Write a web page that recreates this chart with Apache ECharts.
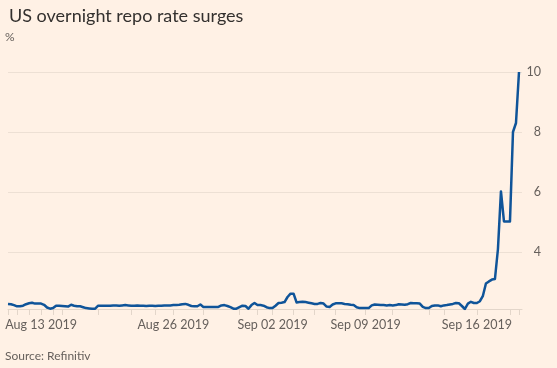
<!DOCTYPE html>
<html>
<head>
<meta charset="utf-8">
<script src="https://cdn.jsdelivr.net/npm/echarts@6/dist/echarts.min.js"></script>
<style>
html,body{margin:0;padding:0;background:#FFF1E5;}
#c{width:557px;height:368px;}
</style>
</head>
<body>
<div id="c"></div>
<script>
// Overnight repo rate observations (%), in order of observation
const rates = [
  2.27,2.26,2.23,2.19,2.19,2.21,2.26,2.29,2.31,2.28,
  2.28,2.28,2.24,2.15,2.11,2.13,2.21,2.21,2.20,2.19,
  2.18,2.24,2.21,2.19,2.19,2.16,2.13,2.12,2.11,2.11,
  2.21,2.21,2.21,2.21,2.21,2.22,2.22,2.21,2.22,2.23,
  2.22,2.21,2.21,2.22,2.21,2.21,2.20,2.21,2.21,2.20,
  2.21,2.21,2.22,2.22,2.22,2.23,2.23,2.24,2.26,2.27,
  2.24,2.20,2.19,2.19,2.25,2.17,2.17,2.17,2.17,2.17,
  2.17,2.22,2.23,2.20,2.16,2.11,2.11,2.16,2.21,2.20,
  2.11,2.23,2.30,2.23,2.23,2.21,2.16,2.13,2.13,2.21,
  2.30,2.31,2.33,2.50,2.61,2.61,2.32,2.33,2.34,2.33,
  2.31,2.29,2.27,2.27,2.30,2.28,2.18,2.17,2.25,2.29,
  2.29,2.29,2.27,2.26,2.24,2.23,2.16,2.13,2.13,2.13,
  2.13,2.22,2.25,2.24,2.23,2.23,2.22,2.23,2.22,2.23,
  2.26,2.25,2.24,2.26,2.30,2.29,2.29,2.28,2.17,2.13,
  2.13,2.20,2.22,2.22,2.19,2.22,2.23,2.25,2.27,2.30,
  2.29,2.20,2.10,2.28,2.34,2.30,2.30,2.36,2.54,2.95,
  3.02,3.08,3.10,4.10,6.02,5.02,5.02,5.02,8.00,8.30,
  10.0, null
];
// observation numbers at which the x axis has tick marks
const xTicks = [0,3,7,11,15,18,30,41,49,55,65,77,83,88,95,102,109,119,128,140,145,156,167,170];
// labelled dates and the observation at which each starts
const xLabelDates = ['Aug 13 2019','Aug 26 2019','Sep 02 2019','Sep 09 2019','Sep 16 2019'];
const xLabelObs = [11,55,88,119,156];
const yTicks = [4,6,8,10];

const categories = rates.map((v,i) => String(i));
const labelAt = {};
xLabelObs.forEach((o,k) => { labelAt[o] = xLabelDates[k]; });

const chart = echarts.init(document.getElementById('c'), null, {renderer:'canvas'});
const font = 'Lato, "Noto Sans", sans-serif';
chart.setOption({
  backgroundColor:'#FFF1E5',
  animation:false,
  title:{
    text:'US overnight repo rate surges',
    left:4, top:2,
    textStyle:{fontFamily:font, fontSize:18, fontWeight:'normal', color:'#33302E'}
  },
  graphic:[
    {type:'text', left:5, top:31, style:{text:'%', fontFamily:font, fontSize:12, fill:'#66605C'}},
    {type:'text', left:5, top:350, style:{text:'Source: Refinitiv', fontFamily:font, fontSize:12, fill:'#66605C'}}
  ],
  grid:{left:8, right:35, top:72, bottom:59, containLabel:false, outerBoundsMode:'none'},
  xAxis:{
    type:'category',
    data:categories,
    boundaryGap:false,
    axisLine:{show:true, lineStyle:{color:'#E3D6CA', width:1}},
    axisTick:{show:true, length:6, lineStyle:{color:'#E3D6CA'}, interval:(i)=>xTicks.includes(i)},
    axisLabel:{
      interval:(i)=>labelAt[i]!==undefined,
      formatter:(v,i)=>labelAt[i]||'',
      margin:9,
      fontFamily:font, fontSize:12.5, color:'#66605C'
    },
    splitLine:{show:false}
  },
  yAxis:{
    type:'value',
    position:'right',
    min:2.1, max:10, splitNumber:4,
    axisLine:{show:false},
    axisTick:{show:false},
    axisLabel:{
      showMinLabel:false,
      align:'right', margin:19,
      fontFamily:font, fontSize:12.5, color:'#66605C',
      formatter:(v)=> yTicks.includes(v) ? String(v) : ''
    },
    splitLine:{show:true, lineStyle:{color:'#EDE0D4', width:1}}
  },
  series:[{
    type:'line',
    data:rates,
    showSymbol:false,
    symbol:'none',
    lineStyle:{color:'#0F5499', width:2.5, join:'round'},
    connectNulls:false
  }]
});
</script>
</body>
</html>
